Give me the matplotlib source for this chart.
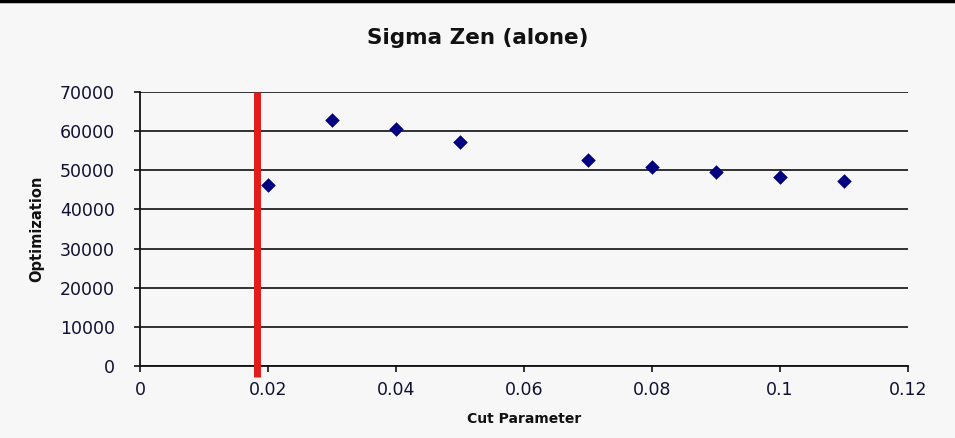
import matplotlib
matplotlib.use("Agg")
import matplotlib.pyplot as plt
from matplotlib.lines import Line2D

# Data
cut_parameter = [0.02, 0.03, 0.04, 0.05, 0.07, 0.08, 0.09, 0.10, 0.11]
optimization = [46300, 62800, 60500, 57100, 52600, 50900, 49500, 48200, 47300]
threshold = 0.0183

x_ticks = [0, 0.02, 0.04, 0.06, 0.08, 0.1, 0.12]
x_tick_labels = ["0", "0.02", "0.04", "0.06", "0.08", "0.1", "0.12"]
y_ticks = [0, 10000, 20000, 30000, 40000, 50000, 60000, 70000]

bg = "#f7f7f7"
fig = plt.figure(figsize=(9.55, 4.38), dpi=100, facecolor=bg)
ax = fig.add_axes([0.1466, 0.1644, 0.8042, 0.6256], facecolor=bg)

ax.scatter(cut_parameter, optimization, marker="D", s=55, color="#000080",
           zorder=3, linewidths=0)

ax.set_xlim(0, 0.12)
ax.set_ylim(0, 70000)
ax.set_xticks(x_ticks)
ax.set_xticklabels(x_tick_labels)
ax.set_yticks(y_ticks)
ax.set_yticklabels([str(v) for v in y_ticks])

ax.grid(axis="y", color="#222222", linewidth=1.3)
ax.set_axisbelow(True)
for side in ("top", "right"):
    ax.spines[side].set_visible(False)
for side in ("left", "bottom"):
    ax.spines[side].set_color("#111111")
    ax.spines[side].set_linewidth(1.3)

ax.tick_params(axis="both", direction="out", length=4, width=1.2,
               color="#111111", labelsize=12.5, labelcolor="#111133")
ax.tick_params(axis="x", pad=7)
ax.tick_params(axis="y", pad=14)

# Threshold marker extending slightly below the axis
ax.plot([threshold, threshold], [-2800, 70000], color="#e31b1b",
        linewidth=5, solid_capstyle="butt", clip_on=False, zorder=4)

ax.set_xlabel("Cut Parameter", fontsize=10, fontweight="bold", labelpad=9,
              color="#111111")
ax.set_ylabel("Optimization", fontsize=10.5, fontweight="bold",
              color="#111111")
ax.yaxis.set_label_coords(-0.125, 0.5)
fig.text(0.5, 0.913, "Sigma Zen (alone)", ha="center", va="center",
         fontsize=15.5, fontweight="bold", color="#111111")

# Frame line along the top edge
fig.add_artist(Line2D([0, 1], [0.997, 0.997], transform=fig.transFigure,
                      color="#000000", linewidth=2.5))

fig.savefig("out.png", dpi=100, facecolor=bg)
